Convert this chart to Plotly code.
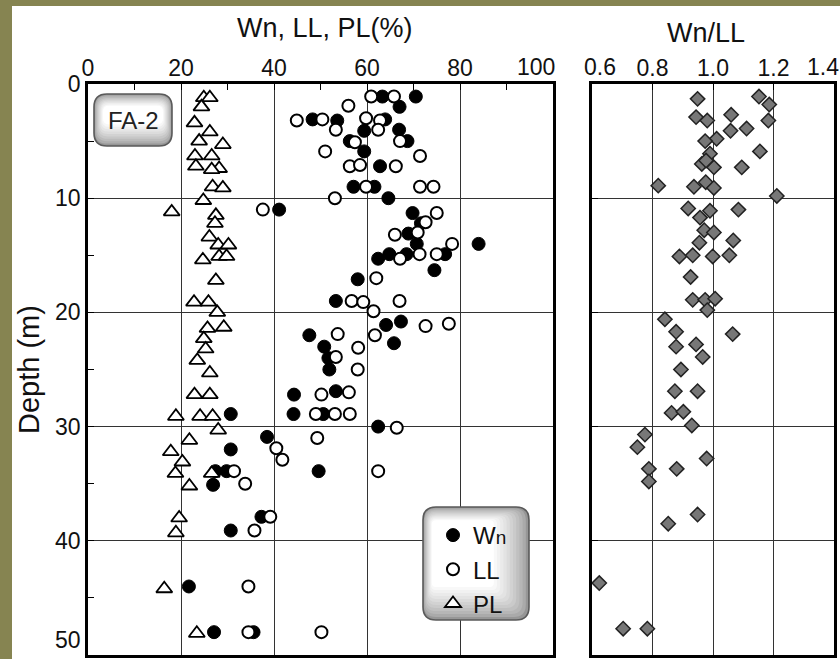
import plotly.graph_objects as go

# ---------------- data ----------------
wn_depth = [1.1, 1.1, 2.0, 3.1, 3.2, 3.1, 4.1, 4.0, 5.0, 5.0, 5.9, 7.2, 9.0, 9.0, 10.0,
            11.0, 11.3, 12.2, 13.1, 14.0, 14.0, 14.9, 14.9, 15.3, 14.9, 16.3, 17.1,
            19.0, 20.8, 21.1, 22.7, 22.0, 23.0, 24.0, 25.0, 26.9, 27.2, 28.9, 28.9,
            28.9, 30.0, 30.9, 32.0, 33.9, 33.9, 33.9, 35.1, 37.9, 39.1, 44.0, 48.0, 48.0]
wn_value = [63.3, 70.5, 67.0, 48.3, 53.6, 63.9, 59.4, 66.9, 56.3, 68.7, 59.4, 62.8, 57.1, 61.6, 64.6,
            41.1, 69.8, 71.6, 68.9, 70.7, 84.0, 76.8, 64.8, 62.4, 68.5, 74.5, 58.0,
            53.3, 67.3, 64.1, 65.8, 47.6, 50.8, 51.7, 51.9, 53.3, 44.3, 44.2, 50.6,
            30.7, 62.4, 38.5, 30.7, 27.4, 29.8, 49.6, 26.9, 37.3, 30.7, 21.7, 27.1, 35.6]

ll_depth = [1.1, 1.1, 1.9, 3.2, 3.1, 3.0, 3.2, 4.0, 4.0, 5.1, 5.0, 5.9, 6.3, 7.2, 7.1, 7.2,
            9.0, 9.0, 9.0, 10.0, 11.0, 11.3, 12.1, 13.0, 13.2, 14.0, 14.9, 15.3, 14.9, 17.0,
            19.0, 19.1, 19.9, 19.0, 21.2, 21.0, 22.0, 21.9, 23.1, 23.9, 25.0, 27.2, 27.0,
            28.9, 28.9, 28.9, 30.1, 31.0, 31.9, 32.9, 33.9, 33.9, 35.0, 37.9, 39.1, 44.0,
            48.0, 48.0]
ll_value = [60.9, 65.8, 56.0, 44.9, 50.4, 59.8, 62.8, 62.4, 53.3, 57.4, 67.1, 51.0, 71.4, 56.3, 58.5, 66.2,
            59.8, 71.4, 74.3, 53.1, 37.6, 75.0, 72.6, 70.9, 66.0, 78.3, 71.3, 67.1, 75.0, 62.0,
            56.7, 59.2, 61.4, 67.0, 72.6, 77.6, 61.7, 53.7, 58.1, 53.3, 58.0, 50.2, 56.1,
            49.0, 53.1, 56.3, 66.4, 49.3, 40.5, 41.8, 31.4, 62.4, 33.8, 39.2, 35.8, 34.5,
            34.5, 50.2]

pl_depth = [1.2, 1.2, 2.0, 3.4, 4.2, 5.0, 5.3, 6.3, 6.3, 7.2, 7.4, 7.5, 9.0, 9.1, 10.2,
            11.2, 11.5, 12.2, 13.4, 14.1, 14.1, 15.4, 15.1, 15.1, 17.2, 19.1, 19.1, 20.0,
            21.3, 21.4, 22.3, 23.2, 24.2, 25.3, 27.2, 27.2, 29.1, 29.1, 29.1, 30.3, 31.2,
            32.2, 33.1, 34.1, 34.1, 35.2, 38.0, 39.3, 44.2, 48.1]
pl_value = [24.9, 26.2, 24.4, 22.9, 26.2, 23.9, 29.0, 26.6, 23.0, 23.2, 28.2, 26.6, 26.8, 29.0, 24.8,
            18.0, 27.5, 27.3, 26.1, 28.0, 30.2, 24.7, 28.2, 29.8, 27.5, 22.8, 25.9, 27.8,
            29.2, 25.7, 24.9, 25.3, 23.5, 26.2, 22.9, 26.2, 18.9, 24.1, 26.8, 28.0, 21.8,
            17.8, 20.3, 18.8, 26.6, 21.8, 19.6, 18.9, 16.4, 23.4]

ratio_depth = [1.3, 1.1, 1.8, 2.9, 3.2, 2.7, 3.2, 4.1, 3.9, 4.8, 5.0, 6.1, 5.9, 7.0, 7.3, 7.3,
               6.7, 8.9, 9.0, 8.6, 9.1, 9.8, 10.9, 11.1, 11.0, 11.7, 12.8, 13.0, 13.9, 13.7,
               15.1, 15.0, 15.1, 15.0, 16.9, 18.9, 18.9, 18.8, 19.8, 20.6, 21.7, 21.9, 23.0,
               22.8, 23.9, 25.0, 26.9, 26.9, 28.8, 28.7, 29.9, 30.7, 31.8, 32.8, 33.7, 33.7,
               34.8, 37.7, 38.5, 43.7, 47.7, 47.7]
ratio_value = [0.949, 1.152, 1.186, 0.944, 0.981, 1.060, 1.183, 1.058, 1.111, 1.012, 0.974, 0.990,
               1.155, 0.963, 1.003, 1.095, 0.977, 0.819, 0.937, 0.976, 1.003, 1.211, 0.918, 0.990,
               1.084, 0.957, 0.971, 1.003, 0.955, 1.067, 0.889, 0.933, 0.999, 1.054, 0.926, 0.933,
               0.974, 1.007, 0.981, 0.841, 0.878, 1.065, 0.878, 0.944, 0.966, 0.894, 0.874, 0.949,
               0.863, 0.902, 0.930, 0.775, 0.750, 0.979, 0.788, 0.880, 0.788, 0.949, 0.852, 0.624,
               0.703, 0.783]

x1_ticks = [0, 20, 40, 60, 80, 100]
x1_labels = ["0", "20", "40", "60", "80", "100"]
x2_ticks = [0.6, 0.8, 1.0, 1.2, 1.4]
x2_labels = ["0.6", "0.8", "1.0", "1.2", "1.4"]
y_ticks = [0, 10, 20, 30, 40, 50]
y_labels = ["0", "10", "20", "30", "40", "50"]

# ---------------- layout helpers ----------------
W, H = 840, 659
FONT = "Liberation Sans, Arial, sans-serif"
TICKFONT = dict(size=23, color="#111", family=FONT)


def px(x):
    return x / W


def py(y):
    return 1 - y / H


def rr_path(x0, y0, x1, y1, r):
    pts = [("M", [(x0 + r, y0)]), ("L", [(x1 - r, y0)]), ("Q", [(x1, y0), (x1, y0 + r)]),
           ("L", [(x1, y1 - r)]), ("Q", [(x1, y1), (x1 - r, y1)]), ("L", [(x0 + r, y1)]),
           ("Q", [(x0, y1), (x0, y1 - r)]), ("L", [(x0, y0 + r)]), ("Q", [(x0, y0), (x0 + r, y0)])]
    s = ""
    for cmd, coords in pts:
        s += cmd + " " + " ".join(f"{px(a):.5f},{py(b):.5f}" for a, b in coords) + " "
    return s + "Z"


def mix(c1, c2, t):
    return "rgb(%d,%d,%d)" % tuple(round(a + (b - a) * t) for a, b in zip(c1, c2))


shapes = []
# olive frame strips
shapes.append(dict(type="rect", xref="paper", yref="paper", x0=0, x1=1, y0=py(6), y1=1,
                   fillcolor="#868451", line_width=0, layer="below"))
shapes.append(dict(type="rect", xref="paper", yref="paper", x0=0, x1=px(12), y0=0, y1=1,
                   fillcolor="#868451", line_width=0, layer="below"))


def gradient_box(x0, y0, x1, y1, r, edge, center, steps, dl, dt, dr, db):
    for i in range(steps):
        t = (i / (steps - 1)) ** 0.7
        shapes.append(dict(type="path", xref="paper", yref="paper",
                           path=rr_path(x0 + dl * i, y0 + dt * i, x1 - dr * i, y1 - db * i,
                                        max(r - i * 0.8, 3)),
                           fillcolor=mix(edge, center, t), line_width=0, layer="above"))
    shapes.append(dict(type="path", xref="paper", yref="paper",
                       path=rr_path(x0, y0, x1, y1, r), fillcolor="rgba(0,0,0,0)",
                       line=dict(color="#5a5a5a", width=1.6), layer="above"))


# FA-2 label box (button-like vertical gradient)
gradient_box(94, 94, 172, 146, 13, (150, 150, 150), (255, 255, 255), 10, 1.0, 1.3, 1.0, 2.4)
# legend box (radial-like gradient)
gradient_box(423, 507, 529, 620, 13, (150, 150, 150), (255, 255, 255), 12, 0.8, 1.2, 3.2, 3.0)

annotations = [
    dict(text="Wn, LL, PL(%)", x=px(325), y=py(28), xref="paper", yref="paper",
         xanchor="center", yanchor="middle",
         showarrow=False, font=dict(size=27, color="#111", family=FONT)),
    dict(text="Wn/LL", x=px(706), y=py(33), xref="paper", yref="paper",
         xanchor="center", yanchor="middle",
         showarrow=False, font=dict(size=27, color="#111", family=FONT)),
    dict(text="Depth (m)", x=px(29), y=py(370), xref="paper", yref="paper", textangle=-90,
         xanchor="center", yanchor="middle",
         showarrow=False, font=dict(size=29, color="#111", family=FONT)),
    dict(text="FA-2", x=px(133), y=py(120), xref="paper", yref="paper",
         xanchor="center", yanchor="middle",
         showarrow=False, font=dict(size=24, color="#222", family=FONT)),
    # crowded end tick labels, nudged as in the reference (anchored to their tick values)
    dict(text=x1_labels[-1], x=x1_ticks[-1], xref="x", y=py(67), yref="paper", xshift=-17,
         xanchor="center", yanchor="middle", showarrow=False, font=TICKFONT),
    dict(text=x2_labels[0], x=x2_ticks[0], xref="x2", y=py(67), yref="paper", xshift=8,
         xanchor="center", yanchor="middle", showarrow=False, font=TICKFONT),
    dict(text=x2_labels[-1], x=x2_ticks[-1], xref="x2", y=py(67), yref="paper", xshift=-11,
         xanchor="center", yanchor="middle", showarrow=False, font=TICKFONT),
]

fig = go.Figure()
fig.add_trace(go.Scatter(x=wn_value, y=wn_depth, mode="markers", name="W<span style='font-size:19px'>n</span>",
                         marker=dict(symbol="circle", size=13, color="black",
                                     line=dict(color="black", width=1)),
                         xaxis="x", yaxis="y"))
fig.add_trace(go.Scatter(x=ll_value, y=ll_depth, mode="markers", name="LL",
                         marker=dict(symbol="circle", size=12, color="white",
                                     line=dict(color="black", width=2)),
                         xaxis="x", yaxis="y"))
fig.add_trace(go.Scatter(x=pl_value, y=pl_depth, mode="markers", name="PL",
                         marker=dict(symbol="triangle-up", size=14, color="white",
                                     line=dict(color="black", width=1.8)),
                         xaxis="x", yaxis="y"))
fig.add_trace(go.Scatter(x=ratio_value, y=ratio_depth, mode="markers", showlegend=False,
                         marker=dict(symbol="diamond", size=11, color="#777777",
                                     line=dict(color="#222222", width=1.5)),
                         xaxis="x2", yaxis="y2"))

axis_common = dict(showline=True, linecolor="black", linewidth=2.5, mirror=True,
                   showgrid=True, gridcolor="#333333", gridwidth=1.3, zeroline=False,
                   automargin=False, ticklabeloverflow="allow",
                   tickfont=TICKFONT, ticks="inside",
                   ticklen=6, tickcolor="black")

x1_text = x1_labels[:-1] + [""]
x2_text = [""] + x2_labels[1:-1] + [""]
y_text = y_labels[:-1] + [y_labels[-1] + "<br>\u00a0"]

fig.update_layout(
    template="none",
    width=W, height=H, autosize=False,
    margin=dict(l=0, r=0, t=0, b=0, pad=0),
    paper_bgcolor="white", plot_bgcolor="white",
    xaxis=dict(domain=[px(88), px(553)], range=[0, 100], side="top", anchor="y",
               tickvals=x1_ticks, ticktext=x1_text, ticklabelstandoff=-4,
               minor=dict(tickvals=[10, 30, 50, 70, 90], ticks="inside", ticklen=6,
                          tickcolor="black", showgrid=False),
               **axis_common),
    yaxis=dict(domain=[py(655), py(84)], range=[50, 0], anchor="x",
               tickvals=y_ticks, ticktext=y_text,
               minor=dict(tickvals=[5, 15, 25, 35, 45], ticks="inside", ticklen=6,
                          tickcolor="black", showgrid=False),
               **axis_common),
    xaxis2=dict(domain=[px(592), px(834)], range=[0.6, 1.4], side="top", anchor="y2",
                tickvals=x2_ticks, ticktext=x2_text, ticklabelstandoff=-4,
                **axis_common),
    yaxis2=dict(domain=[py(655), py(84)], range=[50, 0], anchor="x2",
                tickvals=y_ticks, showticklabels=False, **axis_common),
    showlegend=True,
    legend=dict(x=px(433), y=py(513), xanchor="left", yanchor="top",
                bgcolor="rgba(0,0,0,0)", borderwidth=0, tracegroupgap=0,
                font=dict(size=24, color="#111", family=FONT)),
    shapes=shapes,
    annotations=annotations,
)

fig.write_html("out.html", post_script="document.body.style.margin='0px';")
